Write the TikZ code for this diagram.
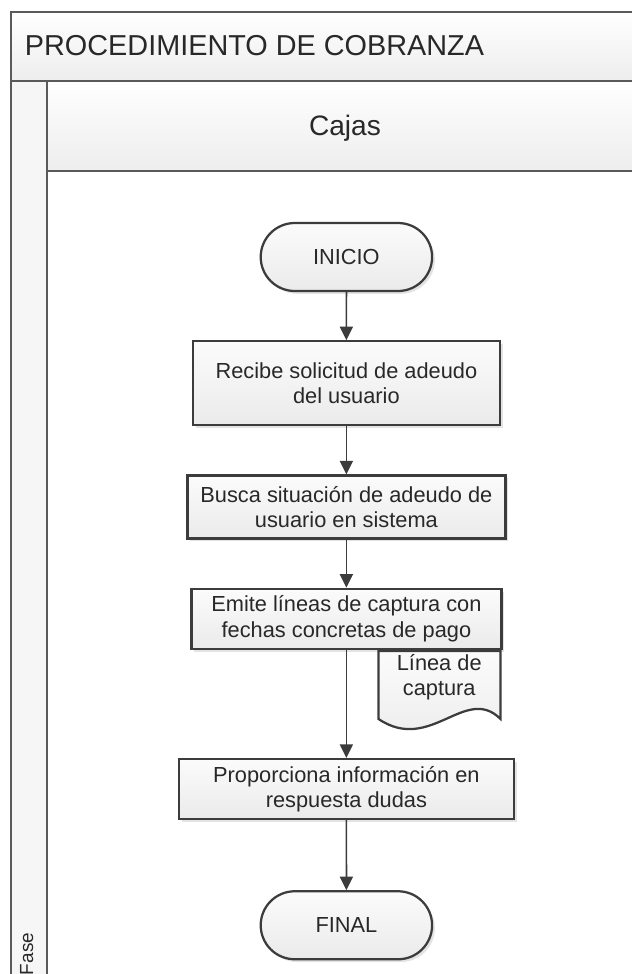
\documentclass[tikz,border=0pt]{standalone}
\usepackage{fontspec}
\setmainfont{Liberation Sans}
\usetikzlibrary{arrows.meta,positioning,shapes.misc,shadows}
\definecolor{LineGray}{RGB}{60,60,60}
\definecolor{TextGray}{RGB}{40,40,40}
\definecolor{FrameGray}{RGB}{90,90,90}

\begin{document}
\begin{tikzpicture}[node distance=1.2cm,>={Triangle[length=3.4mm,width=3.3mm]}]
  \tikzset{
    proc/.style={draw=LineGray,line width=1.6pt,top color=gray!3,bottom color=gray!16,drop shadow={opacity=0.22,shadow xshift=2pt,shadow yshift=-2pt},align=center,text=TextGray,font=\fontsize{15.5}{18}\selectfont,inner sep=2pt},
    term/.style={proc,rounded rectangle,minimum width=4.425cm,minimum height=1.7cm},
    band/.style={draw=FrameGray,line width=1.1pt,top color=white,bottom color=gray!14},
    docshape/.style={draw=LineGray,line width=1.6pt,top color=gray!3,bottom color=gray!16},
    flow/.style={->,draw=LineGray,line width=1.2pt}
  }
  \useasboundingbox (0,0) rectangle (15.8,-24.35);
  % pool and lane
  \begin{scope}
    \clip (0,0) rectangle (15.8,-24.35);
    \draw[band] (0.275,-0.3) rectangle (16.5,-2.025);
    \draw[FrameGray,line width=1.1pt,fill=gray!7] (0.275,-2.025) rectangle (1.175,-25);
    \draw[band] (1.175,-2.025) rectangle (16.5,-4.275);
    \draw[FrameGray,line width=1.1pt] (1.175,-4.275) rectangle (16.5,-25);
  \end{scope}
  \node[anchor=base west,font=\fontsize{20.5}{24}\selectfont,text=TextGray] (titulo) at (0.5,-1.375) {PROCEDIMIENTO DE COBRANZA};
  \node[anchor=base,font=\fontsize{20}{24}\selectfont,text=TextGray] (carril) at (8.625,-3.375) {Cajas};
  \node[rotate=90,anchor=base west,font=\fontsize{13.5}{15}\selectfont,text=TextGray] (fase) at (0.825,-24.5) {Fase};
  % flow
  \node[term] (inicio) at (8.66,-6.425) {INICIO};
  \node[proc,minimum width=7.675cm,minimum height=2.1cm,below=of inicio] (recibe) {Recibe solicitud de adeudo\\del usuario};
  \node[proc,minimum width=7.95cm,minimum height=1.575cm,below=of recibe] (busca) {Busca situación de adeudo de\\usuario en sistema};
  \node[proc,minimum width=7.75cm,minimum height=1.5cm,below=of busca] (emite) {Emite líneas de captura con\\fechas concretas de pago};
  \node[proc,minimum width=8.375cm,minimum height=1.5cm,below=2.7cm of emite] (proporciona) {Proporciona información en\\respuesta dudas};
  \node[term,below=1.75cm of proporciona] (final) {FINAL};
  % document
  \coordinate (docne) at ([xshift=-0.05cm,yshift=-0.028cm]emite.south east);
  \draw[docshape] (docne) -- ++(0,-1.7) .. controls +(-0.875,0.875) and +(1.3,-0.875) .. ++(-3.05,0) -- ++(0,1.7) -- cycle;
  \node[anchor=north east,minimum width=3.05cm,minimum height=1.3cm,inner sep=0pt,align=center,text=TextGray,font=\fontsize{15.5}{18}\selectfont] (linea) at (docne) {Línea de\\captura};
  \foreach \x/\y in {inicio/recibe,recibe/busca,busca/emite,emite/proporciona,proporciona/final}{\draw[flow] (\x) -- (\y);}
\end{tikzpicture}
\end{document}
